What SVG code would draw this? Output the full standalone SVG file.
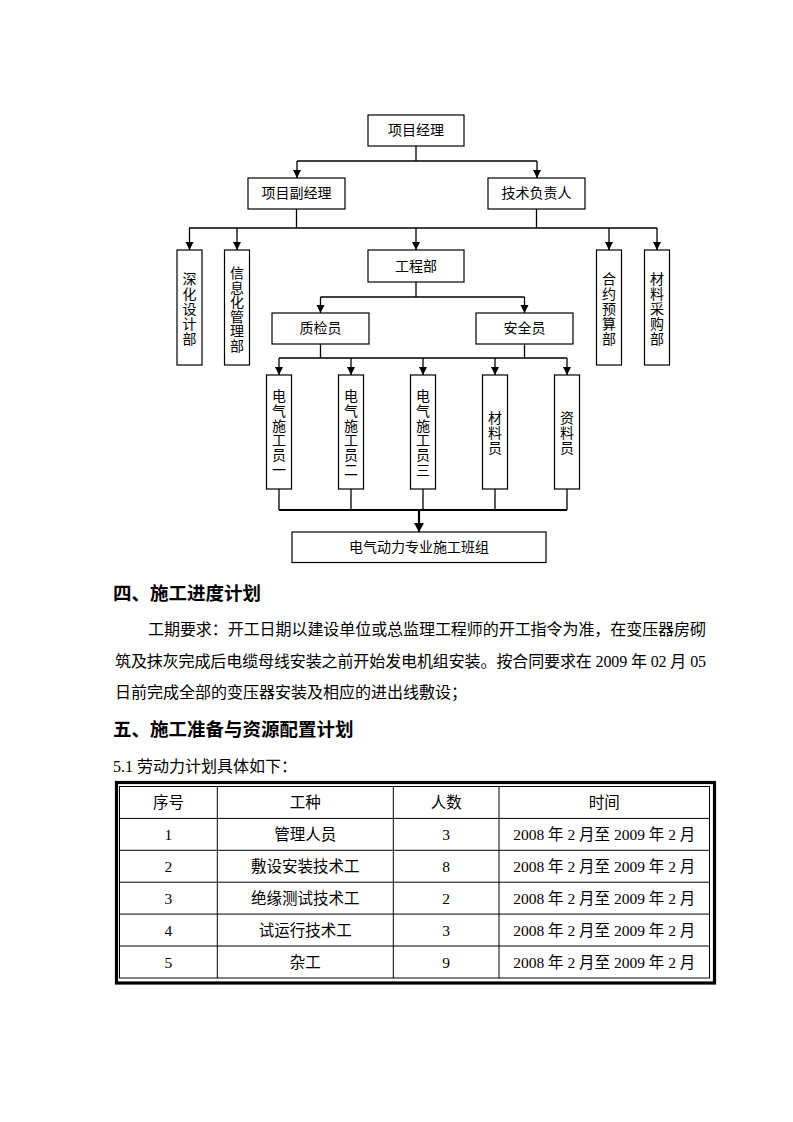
<svg xmlns="http://www.w3.org/2000/svg" width="793" height="1122" viewBox="0 0 793 1122">
<defs>
<style>
.bx{fill:#fff;stroke:#000;stroke-width:1.2}
.ln{fill:none;stroke:#000;stroke-width:1.3}
.lb{font-family:"Liberation Serif","Noto Sans CJK SC",serif;font-size:14px;fill:#000;text-anchor:middle;dominant-baseline:central}
.vt{font-family:"Liberation Serif","Noto Sans CJK SC",serif;font-size:14px;fill:#000;text-anchor:middle;dominant-baseline:central}
.h{font-family:"Liberation Serif","Noto Sans CJK SC",sans-serif;font-size:18.5px;font-weight:bold;fill:#000;dominant-baseline:central}
.p{font-family:"Liberation Serif","Noto Sans CJK SC",serif;font-size:16px;fill:#000;dominant-baseline:central}
.tc{font-family:"Liberation Serif","Noto Sans CJK SC",serif;font-size:15.5px;fill:#000;text-anchor:middle;dominant-baseline:central}
.tl{fill:none;stroke:#000;stroke-width:1}
</style>
<marker id="ar" markerUnits="userSpaceOnUse" markerWidth="9" markerHeight="9" refX="8" refY="4" orient="auto">
<path d="M0,0 L8,4 L0,8 z" fill="#000"/>
</marker>
<marker id="ar2" markerUnits="userSpaceOnUse" markerWidth="11" markerHeight="11" refX="9" refY="5" orient="auto">
<path d="M0,0 L9,5 L0,10 z" fill="#000"/>
</marker>
</defs>
<rect width="793" height="1122" fill="#fff"/>

<g id="connectors">
<path class="ln" d="M416,146 V161 M297,161 H537"/>
<line class="ln" x1="297" y1="161" x2="297" y2="178" marker-end="url(#ar)"/>
<line class="ln" x1="537" y1="161" x2="537" y2="178" marker-end="url(#ar)"/>
<path class="ln" d="M296.5,209 V228 M536.5,209 V228 M189,228 H657"/>
<line class="ln" x1="189.5" y1="228" x2="189.5" y2="250" marker-end="url(#ar)"/>
<line class="ln" x1="237" y1="228" x2="237" y2="250" marker-end="url(#ar)"/>
<line class="ln" x1="416" y1="228" x2="416" y2="250" marker-end="url(#ar)"/>
<line class="ln" x1="609" y1="228" x2="609" y2="250" marker-end="url(#ar)"/>
<line class="ln" x1="657" y1="228" x2="657" y2="250" marker-end="url(#ar)"/>
<path class="ln" d="M416,282 V297 M320.5,297 H524.5"/>
<line class="ln" x1="320.5" y1="297" x2="320.5" y2="313" marker-end="url(#ar)"/>
<line class="ln" x1="524.5" y1="297" x2="524.5" y2="313" marker-end="url(#ar)"/>
<path class="ln" d="M320.5,344 V358 M524.5,344 V358 M279,358 H567"/>
<line class="ln" x1="279" y1="358" x2="279" y2="375" marker-end="url(#ar)"/>
<line class="ln" x1="351" y1="358" x2="351" y2="375" marker-end="url(#ar)"/>
<line class="ln" x1="423" y1="358" x2="423" y2="375" marker-end="url(#ar)"/>
<line class="ln" x1="495" y1="358" x2="495" y2="375" marker-end="url(#ar)"/>
<line class="ln" x1="567" y1="358" x2="567" y2="375" marker-end="url(#ar)"/>
<path class="ln" d="M279,489 V510 M351,489 V510 M423,489 V510 M495,489 V510 M567,489 V510"/>
<path d="M279,510 H567" fill="none" stroke="#000" stroke-width="2"/>
<line x1="419" y1="510" x2="419" y2="532" stroke="#000" stroke-width="2.2" marker-end="url(#ar2)"/>
</g>

<g id="n-xmjl"><rect class="bx" x="368" y="115" width="96" height="31"/><text class="lb" x="416" y="130.5">项目经理</text></g>
<g id="n-xmfjl"><rect class="bx" x="248" y="178" width="97" height="31"/><text class="lb" x="296.5" y="193.5">项目副经理</text></g>
<g id="n-jsfzr"><rect class="bx" x="488" y="178" width="97" height="31"/><text class="lb" x="536.5" y="193.5">技术负责人</text></g>

<g id="n-shsjb"><rect class="bx" x="177" y="250" width="25" height="115"/>
<text class="vt"><tspan x="189.5" y="279">深</tspan><tspan x="189.5" y="294">化</tspan><tspan x="189.5" y="309">设</tspan><tspan x="189.5" y="324">计</tspan><tspan x="189.5" y="339">部</tspan></text></g>
<g id="n-xxhglb"><rect class="bx" x="224.5" y="250" width="25" height="115"/>
<text class="vt"><tspan x="237" y="273">信</tspan><tspan x="237" y="287.5">息</tspan><tspan x="237" y="302">化</tspan><tspan x="237" y="316.5">管</tspan><tspan x="237" y="331">理</tspan><tspan x="237" y="345.5">部</tspan></text></g>
<g id="n-gcb"><rect class="bx" x="368" y="250" width="96" height="32"/><text class="lb" x="416" y="266">工程部</text></g>
<g id="n-hyysb"><rect class="bx" x="596.5" y="250" width="25" height="115"/>
<text class="vt"><tspan x="609" y="279">合</tspan><tspan x="609" y="294">约</tspan><tspan x="609" y="309">预</tspan><tspan x="609" y="324">算</tspan><tspan x="609" y="339">部</tspan></text></g>
<g id="n-clcgb"><rect class="bx" x="644.5" y="250" width="25" height="115"/>
<text class="vt"><tspan x="657" y="279">材</tspan><tspan x="657" y="294">料</tspan><tspan x="657" y="309">采</tspan><tspan x="657" y="324">购</tspan><tspan x="657" y="339">部</tspan></text></g>

<g id="n-zjy"><rect class="bx" x="272" y="313" width="97" height="31"/><text class="lb" x="320.5" y="328.5">质检员</text></g>
<g id="n-aqy"><rect class="bx" x="476" y="313" width="97" height="31"/><text class="lb" x="524.5" y="328.5">安全员</text></g>

<g id="n-dq1"><rect class="bx" x="266.5" y="375" width="25" height="114"/>
<text class="vt"><tspan x="279" y="396">电</tspan><tspan x="279" y="410.8">气</tspan><tspan x="279" y="425.6">施</tspan><tspan x="279" y="440.4">工</tspan><tspan x="279" y="455.2">员</tspan><tspan x="279" y="470">一</tspan></text></g>
<g id="n-dq2"><rect class="bx" x="338.5" y="375" width="25" height="114"/>
<text class="vt"><tspan x="351" y="396">电</tspan><tspan x="351" y="410.8">气</tspan><tspan x="351" y="425.6">施</tspan><tspan x="351" y="440.4">工</tspan><tspan x="351" y="455.2">员</tspan><tspan x="351" y="470">二</tspan></text></g>
<g id="n-dq3"><rect class="bx" x="410.5" y="375" width="25" height="114"/>
<text class="vt"><tspan x="423" y="396">电</tspan><tspan x="423" y="410.8">气</tspan><tspan x="423" y="425.6">施</tspan><tspan x="423" y="440.4">工</tspan><tspan x="423" y="455.2">员</tspan><tspan x="423" y="470">三</tspan></text></g>
<g id="n-cly"><rect class="bx" x="482.5" y="375" width="25" height="114"/>
<text class="vt"><tspan x="495" y="418">材</tspan><tspan x="495" y="433">料</tspan><tspan x="495" y="448">员</tspan></text></g>
<g id="n-zly"><rect class="bx" x="554.5" y="375" width="25" height="114"/>
<text class="vt"><tspan x="567" y="418">资</tspan><tspan x="567" y="433">料</tspan><tspan x="567" y="448">员</tspan></text></g>

<g id="n-bz"><rect class="bx" x="292" y="532" width="254" height="30.5"/><text class="lb" x="419" y="547">电气动力专业施工班组</text></g>

<g id="body-text">
<text class="h" x="113" y="594">四、施工进度计划</text>
<text class="p" x="148" y="629" textLength="558" lengthAdjust="spacing">工期要求：开工日期以建设单位或总监理工程师的开工指令为准，在变压器房砌</text>
<text class="p" x="115" y="661" textLength="591" lengthAdjust="spacing">筑及抹灰完成后电缆母线安装之前开始发电机组安装。按合同要求在 2009 年 02 月 05</text>
<text class="p" x="115" y="692">日前完成全部的变压器安装及相应的进出线敷设；</text>
<text class="h" x="113" y="730">五、施工准备与资源配置计划</text>
<text class="p" x="113" y="766">5.1 劳动力计划具体如下：</text>
</g>

<g id="table">
<rect x="116.5" y="782.5" width="598" height="200.5" fill="none" stroke="#000" stroke-width="3.2"/>
<rect class="tl" x="119.5" y="786.5" width="590" height="191.5"/>
<path class="tl" d="M119.5,818.4 H709.5 M119.5,850.3 H709.5 M119.5,882.2 H709.5 M119.5,914.1 H709.5 M119.5,946 H709.5 M217.3,786.5 V978 M393.3,786.5 V978 M499,786.5 V978"/>
<text class="tc" x="168.4" y="802.5">序号</text>
<text class="tc" x="305.3" y="802.5">工种</text>
<text class="tc" x="446.2" y="802.5">人数</text>
<text class="tc" x="604.3" y="802.5">时间</text>
<text class="tc" x="168.4" y="834.4">1</text>
<text class="tc" x="305.3" y="834.4">管理人员</text>
<text class="tc" x="446.2" y="834.4">3</text>
<text class="tc" x="604.3" y="834.4">2008 年 2 月至 2009 年 2 月</text>
<text class="tc" x="168.4" y="866.3">2</text>
<text class="tc" x="305.3" y="866.3">敷设安装技术工</text>
<text class="tc" x="446.2" y="866.3">8</text>
<text class="tc" x="604.3" y="866.3">2008 年 2 月至 2009 年 2 月</text>
<text class="tc" x="168.4" y="898.2">3</text>
<text class="tc" x="305.3" y="898.2">绝缘测试技术工</text>
<text class="tc" x="446.2" y="898.2">2</text>
<text class="tc" x="604.3" y="898.2">2008 年 2 月至 2009 年 2 月</text>
<text class="tc" x="168.4" y="930.1">4</text>
<text class="tc" x="305.3" y="930.1">试运行技术工</text>
<text class="tc" x="446.2" y="930.1">3</text>
<text class="tc" x="604.3" y="930.1">2008 年 2 月至 2009 年 2 月</text>
<text class="tc" x="168.4" y="962">5</text>
<text class="tc" x="305.3" y="962">杂工</text>
<text class="tc" x="446.2" y="962">9</text>
<text class="tc" x="604.3" y="962">2008 年 2 月至 2009 年 2 月</text>
</g>
</svg>
